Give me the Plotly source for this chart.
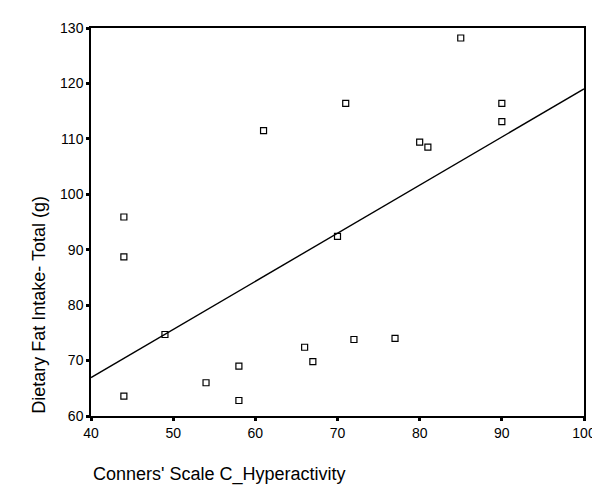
import numpy as np
import plotly.graph_objects as go

# Data
conners_hyperactivity = [44, 44, 44, 49, 54, 58, 58, 61, 66, 67, 70, 71, 72, 77, 80, 81, 85, 90, 90]
dietary_fat_total = [95.9, 88.7, 63.6, 74.7, 66.0, 69.0, 62.8, 111.5, 72.4, 69.8, 92.4, 116.4, 73.8, 74.0, 109.4, 108.5, 128.2, 116.4, 113.1]

x_ticks = [40, 50, 60, 70, 80, 90, 100]
y_ticks = [60, 70, 80, 90, 100, 110, 120, 130]

x_title = "Conners' Scale C_Hyperactivity"
y_title = "Dietary Fat Intake- Total (g)"

xa = np.array(conners_hyperactivity, dtype=float)
ya = np.array(dietary_fat_total, dtype=float)
slope, intercept = np.polyfit(xa, ya, 1)
fit_x = np.array([x_ticks[0], x_ticks[-1]], dtype=float)
fit_y = intercept + slope * fit_x

fig = go.Figure()
fig.add_trace(go.Scatter(
    x=fit_x, y=fit_y, mode="lines",
    line=dict(color="black", width=1.4),
    hoverinfo="skip", showlegend=False, cliponaxis=True,
))
fig.add_trace(go.Scatter(
    x=conners_hyperactivity, y=dietary_fat_total, mode="markers",
    marker=dict(symbol="square-open", size=6, color="black", line=dict(width=1.2, color="black")),
    showlegend=False,
))

axis_common = dict(
    showgrid=False, zeroline=False,
    showline=True, linecolor="black", linewidth=1.5, mirror=True,
    ticks="outside", ticklen=3, tickwidth=3, tickcolor="black",
    tickfont=dict(family="Liberation Sans, Arial, sans-serif", size=14, color="black"),
)

fig.update_layout(
    width=600, height=486,
    margin=dict(l=83, r=17, t=18, b=78),
    paper_bgcolor="white", plot_bgcolor="white",
    xaxis=dict(range=[x_ticks[0], x_ticks[-1]], tickvals=x_ticks, **axis_common),
    yaxis=dict(range=[y_ticks[0], y_ticks[-1]], tickvals=y_ticks, **axis_common),
    annotations=[
        dict(text=x_title, xref="paper", yref="paper", x=0, y=-0.151,
             xanchor="left", yanchor="middle", showarrow=False,
             font=dict(family="Liberation Sans, Arial, sans-serif", size=18, color="black")),
        dict(text=y_title, xref="paper", yref="paper", x=-0.106, y=0,
             xanchor="center", yanchor="bottom", textangle=-90, showarrow=False,
             font=dict(family="Liberation Sans, Arial, sans-serif", size=18, color="black")),
    ],
)

fig.write_html("out.html")
